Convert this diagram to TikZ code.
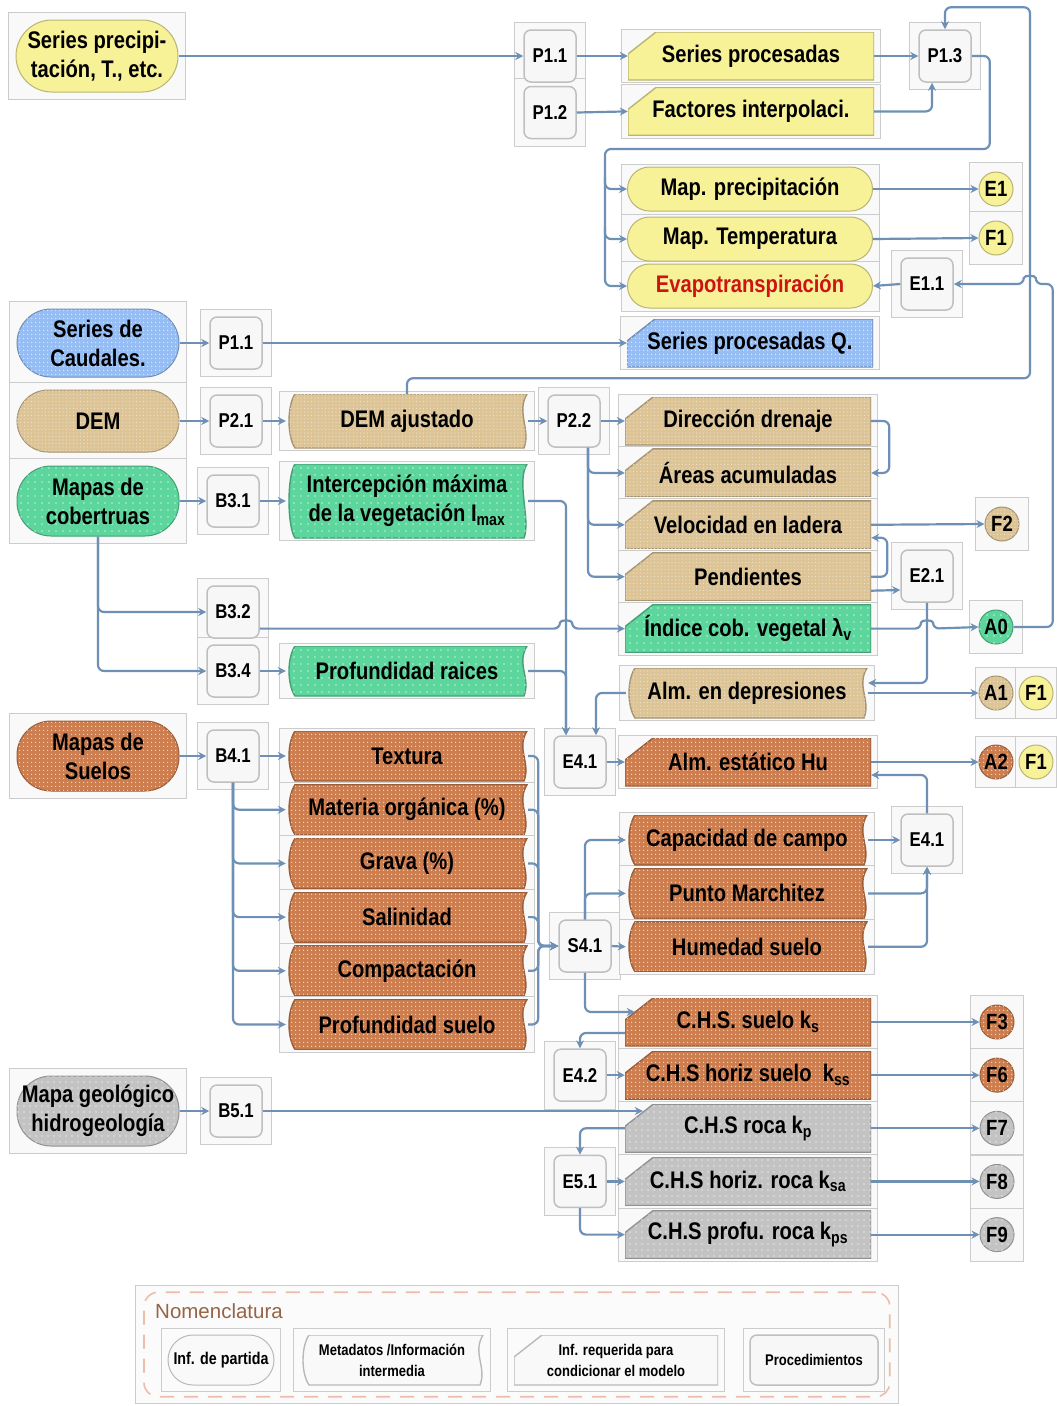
\documentclass[tikz,border=0pt]{standalone}
\usepackage{fontspec}
\setmainfont{Liberation Sans}[FakeStretch=0.84]
\newfontfamily\nomfont{Liberation Sans}
\usepackage{tikz}
\usetikzlibrary{positioning,fit,calc,backgrounds,patterns,patterns.meta,arrows.meta}

\definecolor{linec}{RGB}{110,144,180}
\definecolor{yelc}{RGB}{247,241,152}
\definecolor{tanc}{RGB}{221,196,150}
\definecolor{grnc}{RGB}{92,214,156}
\definecolor{bluc}{RGB}{150,190,245}
\definecolor{orac}{RGB}{205,125,78}
\definecolor{gryc}{RGB}{195,195,195}
\definecolor{evapc}{RGB}{204,20,20}
\definecolor{nomc}{RGB}{150,100,70}
\definecolor{dashc}{RGB}{236,190,170}

\tikzset{
  lab/.style={font=\fontsize{24}{29}\selectfont\bfseries, align=center},
  conn/.style={draw=linec, line width=2.2, rounded corners=6, -{Stealth[length=8pt,width=8pt]}},
  yelfill/.style={fill=yelc, draw=yelc!75!black},
  tanfill/.style={fill=tanc, draw=tanc!75!black, postaction={pattern={Dots[distance=3.5pt,radius=0.7pt]}, pattern color=tanc!50!white}},
  grnfill/.style={fill=grnc, draw=grnc!75!black, postaction={pattern={Dots[distance=7pt,radius=0.9pt]}, pattern color=grnc!40!white}},
  blufill/.style={fill=bluc, draw=bluc!75!black, postaction={pattern={Dots[distance=4pt,radius=0.9pt]}, pattern color=bluc!35!white}},
  orafill/.style={fill=orac, draw=orac!75!black, postaction={pattern={Dots[distance=4pt,radius=0.9pt]}, pattern color=orac!30!white}},
  gryfill/.style={fill=gryc, draw=gryc!75!black, postaction={pattern={Dots[distance=6pt,radius=0.9pt]}, pattern color=gryc!45!white}},
  legfill/.style={fill=gray!5, draw=gray!55},
  stad/.style={rectangle, rounded corners=34, minimum width=162, minimum height=70,
    inner sep=0, line width=1, lab, #1},
  card/.style={minimum width=246, minimum height=48, inner sep=0, lab,
    path picture={\path[#1, line width=1.4] let \p1=(path picture bounding box.north west),
      \p2=(path picture bounding box.south east) in
      (\x1,\y2) -- (\x1,\y1-22pt) -- (\x1+28pt,\y1) -- (\x2,\y1) -- (\x2,\y2) -- cycle;}},
  tapebox/.style={minimum width=242, minimum height=50, inner sep=0, lab,
    path picture={\path[#1, line width=1.4] let \p1=(path picture bounding box.north west),
      \p2=(path picture bounding box.south east) in
      (\x1+9pt,\y1) .. controls (\x1+1pt,\y1-12pt) and (\x1+1pt,\y2+12pt) .. (\x1+9pt,\y2)
      -- (\x2-4pt,\y2) .. controls (\x2+3pt,\y2+18pt) and (\x2-12pt,\y1-18pt) .. (\x2-1pt,\y1) -- cycle;}},
  proc/.style={rectangle, rounded corners=7, draw=gray!50, fill=gray!6, line width=1.5,
    minimum size=52, inner sep=0, font=\fontsize{20}{24}\selectfont\bfseries},
  circ/.style={circle, minimum size=34, inner sep=0, line width=1,
    font=\fontsize{22}{24}\selectfont\bfseries, #1},
  cellbox/.style={rectangle, draw=gray!40, fill=gray!5, line width=0.8},
  legframe/.style={rectangle, draw=gray!40, fill=gray!3, line width=1},
  legdash/.style={rectangle, rounded corners=14, draw=dashc, line width=1.6, dash pattern=on 14pt off 10pt}
}

\begin{document}
\begin{tikzpicture}[x=1pt,y=-1pt]
\useasboundingbox (0,0) rectangle (1057,1406);

% precipitacion
\node[stad=yelfill, minimum height=72, rounded corners=36] (spt) at (97,56) {Series precipi-\\tación, T., etc.};
\node[proc] (p11) at (550,56) {P1.1};
\node[proc, below=3pt of p11] (p12) {P1.2};
\node[card=yelfill] (sp) at (751,56) {Series procesadas};
\node[card=yelfill, below=7pt of sp] (fi) {Factores interpolaci.};
\node[proc] (p13) at (945,56) {P1.3};

\node[stad=yelfill, minimum width=245, minimum height=44, rounded corners=22] (mp) at (750,189) {Map. precipitación};
\node[stad=yelfill, minimum width=245, minimum height=44, rounded corners=22, below=5pt of mp] (mt) {Map. Temperatura};
\node[stad=yelfill, minimum width=245, minimum height=44, rounded corners=22, below=2pt of mt, text=evapc] (ev) {Evapotranspiración};
\node[circ=yelfill] (e1c) at (996,189) {E1};
\node[circ=yelfill] (f1a) at (996,238) {F1};
\node[proc] (e11) at (927,284) {E1.1};

% caudales
\node[stad=blufill, minimum height=68] (scau) at (98,343) {Series de\\Caudales.};
\node[proc] (p11b) at (236,343) {P1.1};
\node[card=blufill] (sq) at (750,343) {Series procesadas Q.};

% DEM
\node[stad=tanfill, minimum height=62, rounded corners=31] (dem) at (98,421) {DEM};
\node[proc] (p21) at (236,421) {P2.1};
\node[tapebox=tanfill, minimum height=54] (demaj) at (407,421) {DEM ajustado};
\node[proc] (p22) at (574,421) {P2.2};
\node[card=tanfill] (dd) at (748,421) {Dirección drenaje};
\node[card=tanfill, below=3.5pt of dd] (aa) {Áreas acumuladas};
\node[card=tanfill, below=3.5pt of aa] (vl) {Velocidad en ladera};
\node[card=tanfill, below=3.5pt of vl] (pe) {Pendientes};
\node[card=grnfill, below=3.5pt of pe] (ic) {Índice cob. vegetal λ\textsubscript{v}};
\node[circ=tanfill] (f2) at (1002,524) {F2};
\node[proc] (e21) at (927,576) {E2.1};
\node[circ=grnfill] (a0) at (996,627) {A0};

% coberturas
\node[stad=grnfill] (mcob) at (98,501) {Mapas de\\cobertruas};
\node[proc] (b31) at (233,501) {B3.1};
\node[tapebox=grnfill, minimum height=74] (inter) at (407,501) {Intercepción máxima\\de la vegetación I\textsubscript{max}};
\node[proc] (b32) at (233,612) {B3.2};
\node[proc] (b34) at (233,671) {B3.4};
\node[tapebox=grnfill] (raic) at (407,671) {Profundidad raices};

% almacenamiento
\node[tapebox=tanfill] (ad) at (747,693) {Alm. en depresiones};
\node[proc] (e41a) at (580,762) {E4.1};
\node[card=orafill] (ae) at (748,762) {Alm. estático Hu};
\node[circ=tanfill] (a1) at (996,693) {A1};
\node[circ=yelfill] (f1b) at (1036,693) {F1};
\node[circ=orafill] (a2) at (996,762) {A2};
\node[circ=yelfill] (f1c) at (1036,762) {F1};

% suelos
\node[stad=orafill] (msue) at (98,756) {Mapas de\\Suelos};
\node[proc] (b41) at (233,756) {B4.1};
\node[tapebox=orafill] (tex) at (407,756) {Textura};
\node[tapebox=orafill, below=3.3pt of tex] (mo) {Materia orgánica (\%)};
\node[tapebox=orafill, below=3.3pt of mo] (gra) {Grava (\%)};
\node[tapebox=orafill, below=3.3pt of gra] (sal) {Salinidad};
\node[tapebox=orafill, below=3.3pt of sal] (com) {Compactación};
\node[tapebox=orafill, below=3.3pt of com] (prof) {Profundidad suelo};
\node[proc] (s41) at (585,946) {S4.1};
\node[tapebox=orafill] (cc) at (747,840) {Capacidad de campo};
\node[tapebox=orafill, below=3pt of cc] (pm) {Punto Marchitez};
\node[tapebox=orafill, below=3pt of pm] (hs) {Humedad suelo};
\node[proc] (e41b) at (927,840) {E4.1};

% conductividades
\node[card=orafill] (ks) at (748,1022) {C.H.S. suelo k\textsubscript{s}};
\node[card=orafill, below=4.75pt of ks] (kss) {C.H.S horiz suelo\ \ k\textsubscript{ss}};
\node[card=gryfill, below=4.75pt of kss] (kp) {C.H.S roca k\textsubscript{p}};
\node[card=gryfill, below=4.75pt of kp] (ksa) {C.H.S horiz. roca k\textsubscript{sa}};
\node[card=gryfill, below=4.75pt of ksa] (kps) {C.H.S profu. roca k\textsubscript{ps}};
\node[proc] (e42) at (e41a |- kss) {E4.2};
\node[proc] (e51) at (e41a |- ksa) {E5.1};
\node[circ=orafill] (f3) at (997,1022) {F3};
\node[circ=orafill] (f6) at (f3 |- kss) {F6};
\node[circ=gryfill] (f7) at (f3 |- kp) {F7};
\node[circ=gryfill] (f8) at (f3 |- ksa) {F8};
\node[circ=gryfill] (f9) at (f3 |- kps) {F9};

% geologia
\node[stad=gryfill] (mgeo) at (98,1111) {Mapa geológico\\hidrogeología};
\node[proc] (b51) at (236,1111) {B5.1};

% nomenclatura
\node[anchor=west, inner sep=0, text=nomc, font=\nomfont\fontsize{20.5}{24}\selectfont] (nomt) at (155,1311) {Nomenclatura};
\node[stad=legfill, minimum width=106, minimum height=50, rounded corners=25,
  font=\fontsize{17}{20}\selectfont\bfseries] (leg1) at (221,1360) {Inf. de partida};
\node[tapebox=legfill, minimum width=184, font=\fontsize{15.5}{21}\selectfont\bfseries] (leg2) at (392,1360) {Metadatos /Información\\intermedia};
\node[card=legfill, minimum width=204, minimum height=50, font=\fontsize{15.5}{21}\selectfont\bfseries] (leg3) at (616,1360) {Inf. requerida para\\condicionar el modelo};
\node[proc, minimum width=128, minimum height=50, font=\fontsize{15.5}{20}\selectfont\bfseries] (leg4) at (814,1360) {Procedimientos};

\begin{scope}[on background layer]
  \node[legframe, fit=(nomt)(leg1)(leg4), inner xsep=20, inner ysep=18] (legout) {};
  \node[legdash, fit=(nomt)(leg1)(leg4), inner xsep=11, inner ysep=11] (legin) {};
  \foreach \n in {leg1,leg2,leg3,leg4} \node[cellbox, fill=gray!3, inner sep=6, fit=(\n)] {};
  \foreach \n in {spt,scau,dem,mcob,msue,mgeo} \node[cellbox, inner sep=7, fit=(\n)] {};
  \foreach \n in {p11,p12,p13,e11,p11b,p21,p22,b31,e21,b32,b34,b41,e41a,e41b,s41,e42,b51,e51}
    \node[cellbox, inner xsep=9, inner ysep=7, fit=(\n)] {};
  \foreach \n in {sp,fi,mp,mt,ev,sq,dd,aa,vl,pe,ic,ad,ae,cc,pm,hs,ks,kss,kp,ksa,kps,demaj,inter,raic,tex,mo,gra,sal,com,prof}
    \node[cellbox, inner xsep=6, inner ysep=2.5, fit=(\n)] {};
  \foreach \n in {e1c,f1a,f2,a0,f3,f6,f7,f8,f9} \node[cellbox, inner sep=9, fit=(\n)] {};
  \foreach \n in {a1,f1b,a2,f1c} \node[cellbox, inner xsep=3, inner ysep=8, fit=(\n)] {};
\end{scope}

% conexiones precipitacion
\draw[conn] (spt.east) -- (p11.west);
\draw[conn] (p11.east) -- (sp.west);
\draw[conn] (p12.east) -- (fi.west);
\draw[conn] (sp.east) -- (p13.west);
\draw[conn] (fi.east) -| ($(p13.south)+(-13,0)$);
\draw[conn] (p13.east) -- ++(18,0) |- ($(mp.west)+(-22,-40)$) |- (ev.west);
\draw[conn] ($(mp.west)+(-22,-12)$) |- (mp.west);
\draw[conn] ($(mt.west)+(-22,-12)$) |- (mt.west);
\draw[conn] (mp.east) -- (e1c.west);
\draw[conn] (mt.east) -- (f1a.west);
\draw[conn] (e11.west) -- (ev.east);
\draw[conn] (a0.east) -| ($(e11.east)+(99,0)$) -- ($(e11.east)+(82,0)$)
  .. controls ($(e11.east)+(82,-9)$) and ($(e11.east)+(70,-9)$) .. ($(e11.east)+(70,0)$) -- (e11.east);
\draw[conn] (demaj.north) |- ($(p13.north)+(85,349)$) |- ($(p13.north)+(0,-22)$) -- (p13.north);

% caudales y DEM
\draw[conn] (scau.east) -- (p11b.west);
\draw[conn] (p11b.east) -- (sq.west);
\draw[conn] (dem.east) -- (p21.west);
\draw[conn] (p21.east) -- (demaj.west);
\draw[conn] (demaj.east) -- (p22.west);
\draw[conn] (p22.east) -- (dd.west);
\foreach \n in {aa,vl,pe} \draw[conn] ($(p22.south)+(14,0)$) |- (\n.west);
\draw[conn] (dd.east) -- ++(18,0) |- (aa.east);
\draw[conn] (pe.east) -- ++(16,0) |- ($(vl.east)+(0,13)$);
\draw[conn] ($(pe.east)+(0,14)$) -- ($(e21.west)+(0,14)$);
\draw[conn] (vl.east) -- (f2.west);
\draw[conn] (e21.south) |- ($(ad.east)+(0,-10)$);
\draw[conn] (ic.east) -- ($(ic.east -| e21.south)+(-6,0)$)
  .. controls ($(ic.east -| e21.south)+(-6,-9)$) and ($(ic.east -| e21.south)+(6,-9)$) .. ($(ic.east -| e21.south)+(6,0)$) -- (a0.west);

% coberturas
\draw[conn] (mcob.east) -- (b31.west);
\draw[conn] (b31.east) -- (inter.west);
\draw[conn] (mcob.south) |- (b32.west);
\draw[conn] (mcob.south) |- (b34.west);
\draw[conn] (b34.east) -- (raic.west);
\draw[conn] (b32.east |- ic.west) -- ($(e41a.north |- ic.west)+(-20,0)$)
  .. controls ($(e41a.north |- ic.west)+(-20,-9)$) and ($(e41a.north |- ic.west)+(-8,-9)$) .. ($(e41a.north |- ic.west)+(-8,0)$) -- (ic.west);
\draw[conn] (inter.east) -| ($(e41a.north)+(-14,0)$);
\draw[conn] (raic.east) -| ($(e41a.north)+(-14,0)$);
\draw[conn] (ad.west) -| ($(e41a.north)+(16,0)$);
\draw[conn] (e41a.east) -- (ae.west);
\draw[conn] (ad.east) -- (a1.west);
\draw[conn] (ae.east) -- (a2.west);

% suelos
\draw[conn] (msue.east) -- (b41.west);
\draw[conn] (b41.east) -- (tex.west);
\foreach \n in {mo,gra,sal,com,prof} \draw[conn] (b41.south) |- (\n.west);
\foreach \n in {tex,mo,gra,sal,com,prof} \draw[conn] (\n.east) -- ++(10,0) |- (s41.west);
\draw[conn] (s41.east) -- (hs.west);
\draw[conn] (s41.north) |- (cc.west);
\draw[conn] (s41.north) |- (pm.west);
\draw[conn] (cc.east) -- (e41b.west);
\draw[conn] (pm.east) -| (e41b.south);
\draw[conn] (hs.east) -| (e41b.south);
\draw[conn] (e41b.north) |- ($(ae.east)+(0,13)$);
\draw[conn] (s41.south) |- ($(ks.west)+(10,-10)$);
\draw[conn] ($(ks.west)+(0,11)$) -| (e42.north);
\draw[conn] (e42.east) -- (kss.west);

% geologia
\draw[conn] (mgeo.east) -- (b51.west);
\draw[conn] (b51.east) -- ($(b51.east -| kp.west)+(18,0)$);
\draw[conn] (kp.west) -| (e51.north);
\draw[conn] (e51.east) -- (ksa.west);
\draw[conn] (e51.south) |- (kps.west);
\foreach \a/\b in {ks/f3,kss/f6,kp/f7,ksa/f8,kps/f9} \draw[conn] (\a.east) -- (\b.west);
\end{tikzpicture}
\end{document}
